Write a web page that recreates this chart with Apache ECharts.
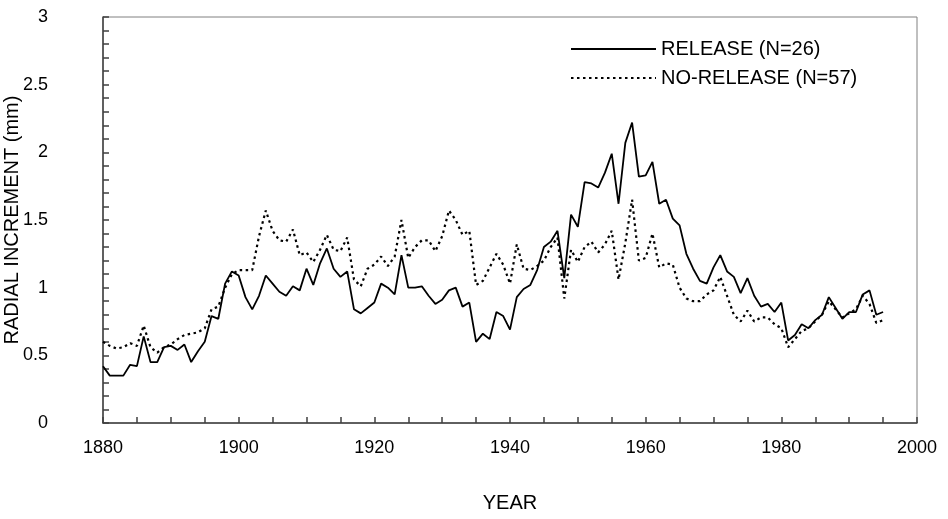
<!DOCTYPE html>
<html>
<head>
<meta charset="utf-8">
<script src="https://cdn.jsdelivr.net/npm/echarts@6/dist/echarts.min.js"></script>
<style>
html,body{margin:0;padding:0;background:#fff;}
#chart{width:948px;height:519px;}
</style>
</head>
<body>
<div id="chart"></div>
<script>
const years = [1880,1881,1882,1883,1884,1885,1886,1887,1888,1889,
1890,1891,1892,1893,1894,1895,1896,1897,1898,1899,
1900,1901,1902,1903,1904,1905,1906,1907,1908,1909,
1910,1911,1912,1913,1914,1915,1916,1917,1918,1919,
1920,1921,1922,1923,1924,1925,1926,1927,1928,1929,
1930,1931,1932,1933,1934,1935,1936,1937,1938,1939,
1940,1941,1942,1943,1944,1945,1946,1947,1948,1949,
1950,1951,1952,1953,1954,1955,1956,1957,1958,1959,
1960,1961,1962,1963,1964,1965,1966,1967,1968,1969,
1970,1971,1972,1973,1974,1975,1976,1977,1978,1979,
1980,1981,1982,1983,1984,1985,1986,1987,1988,1989,
1990,1991,1992,1993,1994,1995];

const release = [0.42,0.35,0.35,0.35,0.43,0.42,0.64,0.45,0.45,0.56,
0.57,0.54,0.58,0.45,0.53,0.60,0.79,0.77,1.03,1.12,
1.09,0.93,0.84,0.94,1.09,1.03,0.97,0.94,1.01,0.98,
1.14,1.02,1.18,1.29,1.14,1.08,1.12,0.84,0.81,0.85,
0.89,1.03,1.00,0.95,1.24,1.00,1.00,1.01,0.94,0.88,
0.91,0.98,1.00,0.86,0.89,0.60,0.66,0.62,0.82,0.79,
0.69,0.93,0.99,1.02,1.13,1.30,1.34,1.42,1.07,1.54,
1.45,1.78,1.77,1.74,1.85,1.99,1.62,2.07,2.22,1.82,
1.83,1.93,1.62,1.65,1.51,1.46,1.25,1.14,1.05,1.03,
1.15,1.24,1.12,1.08,0.96,1.07,0.94,0.86,0.88,0.82,
0.89,0.61,0.65,0.73,0.70,0.76,0.80,0.93,0.85,0.77,
0.82,0.82,0.95,0.98,0.80,0.82];

const noRelease = [0.60,0.57,0.55,0.56,0.59,0.57,0.72,0.56,0.52,0.56,
0.58,0.62,0.65,0.66,0.67,0.70,0.84,0.86,1.00,1.10,
1.13,1.13,1.13,1.38,1.57,1.42,1.35,1.34,1.43,1.24,
1.26,1.19,1.28,1.39,1.28,1.27,1.37,1.06,1.01,1.14,
1.17,1.23,1.16,1.23,1.50,1.22,1.30,1.35,1.35,1.27,
1.38,1.57,1.50,1.39,1.42,1.02,1.05,1.15,1.25,1.17,
1.03,1.32,1.14,1.13,1.16,1.20,1.30,1.37,0.92,1.28,
1.19,1.30,1.34,1.26,1.32,1.42,1.06,1.33,1.65,1.20,
1.22,1.40,1.15,1.18,1.17,1.00,0.92,0.90,0.90,0.95,
0.98,1.08,0.94,0.80,0.75,0.83,0.75,0.78,0.78,0.73,
0.70,0.56,0.62,0.68,0.70,0.75,0.80,0.90,0.84,0.78,
0.81,0.84,0.94,0.88,0.74,0.76];

const seriesNames = ['RELEASE (N=26)', 'NO-RELEASE (N=57)'];
const xTitle = 'YEAR';
const yTitle = 'RADIAL INCREMENT (mm)';

const FONT = '"Liberation Sans", Arial, sans-serif';
const chart = echarts.init(document.getElementById('chart'), null, {renderer: 'canvas'});

const pairs = (vals) => years.map((y, i) => [y, vals[i]]);

chart.setOption({
  animation: false,
  backgroundColor: '#ffffff',
  textStyle: {fontFamily: FONT, color: '#000'},
  grid: {left: 103, right: 31, top: 17, bottom: 96, show: true, borderColor: '#808080', borderWidth: 1,
         containLabel: false, outerBoundsMode: 'none'},
  legend: {
    show: true,
    orient: 'vertical',
    left: 565, top: 34,
    itemWidth: 85, itemHeight: 14, itemGap: 9,
    itemStyle: {opacity: 0},
    textStyle: {fontFamily: FONT, fontSize: 20, color: '#000'},
    data: [seriesNames[0], seriesNames[1]]
  },
  xAxis: {
    type: 'value', min: 1880, max: 2000, interval: 20,
    name: xTitle, nameLocation: 'middle', nameGap: 70, nameMoveOverlap: false,
    nameTextStyle: {fontFamily: FONT, fontSize: 20, color: '#000'},
    axisLine: {show: true, lineStyle: {color: '#404040', width: 1.5}},
    axisTick: {show: true, inside: true, length: 6, lineStyle: {color: '#404040', width: 1.5}},
    minorTick: {show: true, splitNumber: 4, length: 6, lineStyle: {color: '#404040', width: 1.5}},
    axisLabel: {fontFamily: FONT, fontSize: 18, color: '#000', margin: 16, formatter: (v) => String(v)},
    splitLine: {show: false}
  },
  yAxis: {
    type: 'value', min: 0, max: 3, interval: 0.5,
    name: yTitle, nameLocation: 'middle', nameGap: 81, nameRotate: 90, nameMoveOverlap: false,
    nameTextStyle: {fontFamily: FONT, fontSize: 20, color: '#000'},
    axisLine: {show: true, lineStyle: {color: '#404040', width: 1.5}},
    axisTick: {show: true, inside: true, length: 6, lineStyle: {color: '#404040', width: 1.5}},
    minorTick: {show: true, splitNumber: 5, length: 6, lineStyle: {color: '#404040', width: 1.5}},
    axisLabel: {fontFamily: FONT, fontSize: 18, color: '#000', margin: 55, formatter: (v) => String(v)},
    splitLine: {show: false}
  },
  series: [
    {
      name: seriesNames[0], type: 'line', data: pairs(release),
      symbol: 'none', lineStyle: {color: '#000', width: 1.8, type: 'solid'},
      itemStyle: {color: '#000'}
    },
    {
      name: seriesNames[1], type: 'line', data: pairs(noRelease),
      symbol: 'none', lineStyle: {color: '#000', width: 2.2, type: [2.5, 3.5]},
      itemStyle: {color: '#000'}
    }
  ]
});
</script>
</body>
</html>
